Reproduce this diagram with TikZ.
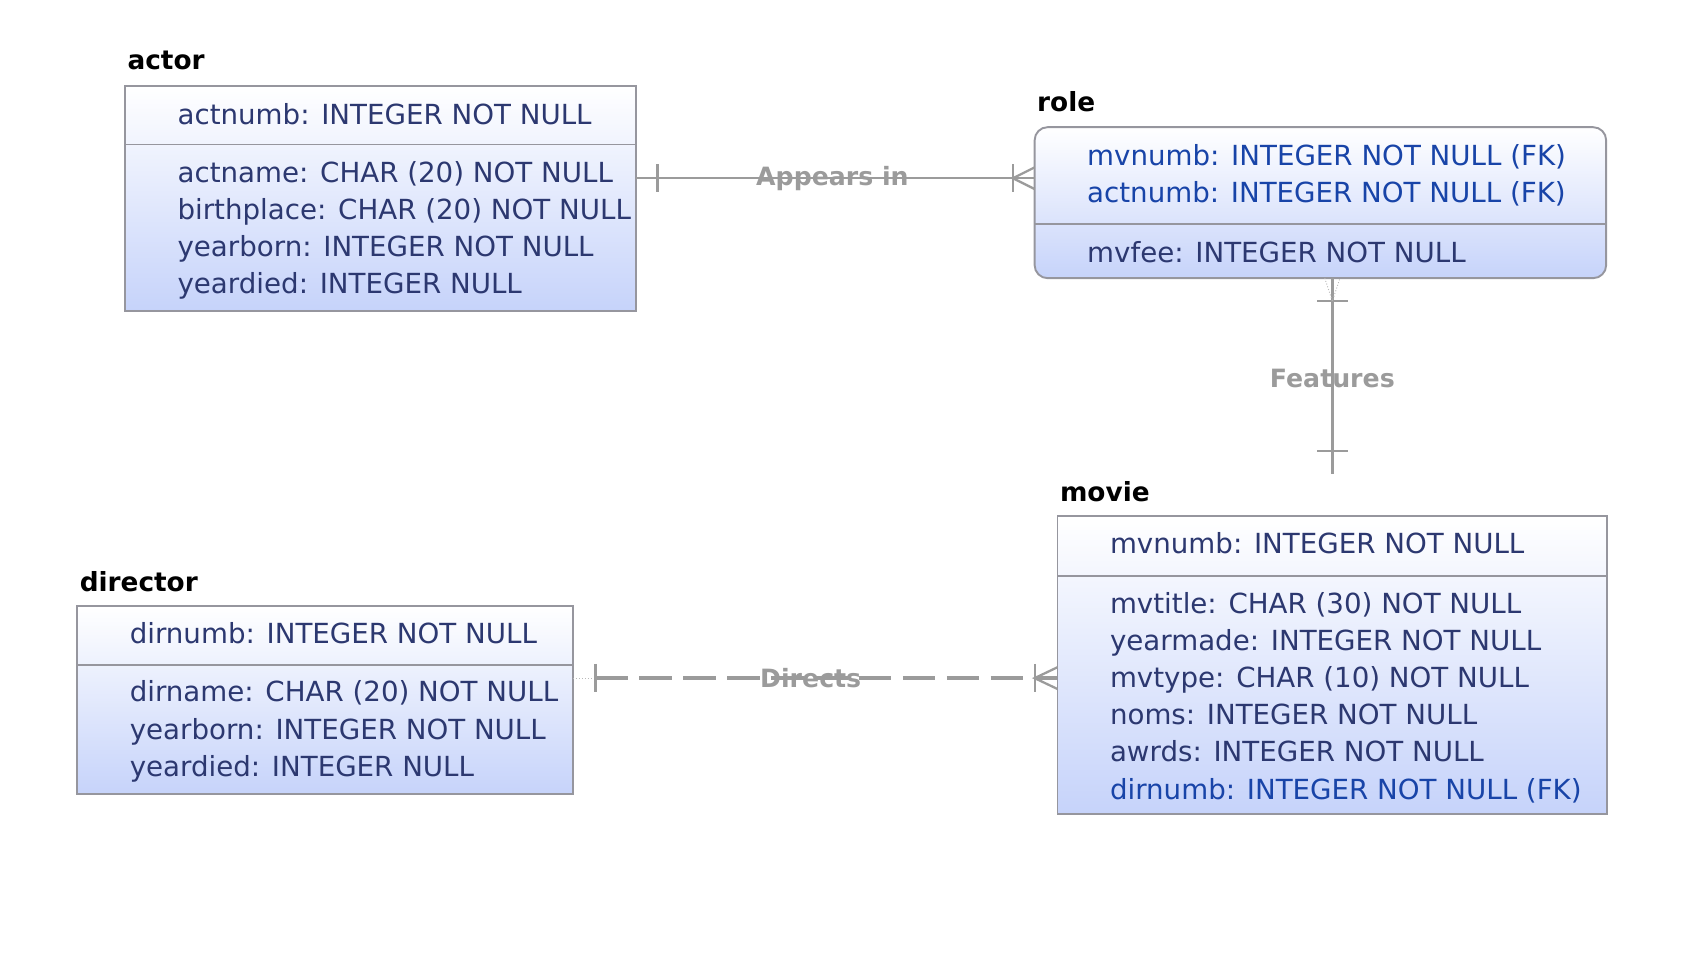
\documentclass[tikz,border=0pt]{standalone}
\usepackage{fontspec}
\setmainfont{DejaVu Sans}
\usepackage{tikz}
\usetikzlibrary{positioning, calc}
\definecolor{boxgray}{RGB}{150,150,158}
\definecolor{ertext}{RGB}{44,56,112}
\definecolor{erfk}{RGB}{24,68,168}
\definecolor{erfill}{RGB}{198,211,250}
\definecolor{relgray}{RGB}{155,155,155}

\begin{document}
\begin{tikzpicture}[x=0.02cm, y=-0.02cm,
    tbl/.style={draw=boxgray, line width=1pt, top color=white, bottom color=erfill, inner sep=0pt, outer sep=0pt},
    divider/.style={draw=boxgray, line width=1pt},
    rows/.style={anchor=west, inner sep=0pt, align=left, text=ertext, font=\fontsize{14.5}{19.4}\selectfont},
    ttl/.style={anchor=west, inner sep=0pt, font=\bfseries\fontsize{13.8}{16}\selectfont},
    rel/.style={draw=relgray, line width=1.2pt},
    rellabel/.style={inner sep=0pt, text=relgray, font=\bfseries\fontsize{13.2}{15}\selectfont}]
  \useasboundingbox (0,0) rectangle (1568,878);
  % Tables
  \node[tbl, minimum width=9.4cm, minimum height=4.14cm] (actor) at (350,182.5) {};
  \node[tbl, rounded corners=0.24cm, minimum width=10.52cm, minimum height=2.78cm] (role) at (1215,186.5) {};
  \node[tbl, minimum width=10.12cm, minimum height=5.48cm] (movie) at (1226,612) {};
  \node[tbl, minimum width=9.12cm, minimum height=3.46cm] (director) at (299,644.5) {};
  \draw[divider] ([yshift=-1.08cm]actor.north west) -- ([yshift=-1.08cm]actor.north east);
  \draw[divider] ([yshift=-1.78cm]role.north west) -- ([yshift=-1.78cm]role.north east);
  \draw[divider] ([yshift=-1.10cm]movie.north west) -- ([yshift=-1.10cm]movie.north east);
  \draw[divider] ([yshift=-1.08cm]director.north west) -- ([yshift=-1.08cm]director.north east);
  % Titles
  \node[ttl] (actorttl) at ([shift={(2,-23)}]actor.north west) {actor};
  \node[ttl] (rolettl) at ([shift={(2,-23)}]role.north west) {role};
  \node[ttl] (moviettl) at ([shift={(2,-23)}]movie.north west) {movie};
  \node[ttl] (directorttl) at ([shift={(2,-23)}]director.north west) {director};
  % Columns
  \node[rows] (actorkey) at ([shift={(48,26)}]actor.north west) {actnumb: INTEGER NOT NULL};
  \node[rows] (actorcols) at ([shift={(48,133)}]actor.north west)
        {actname: CHAR (20) NOT NULL\\ birthplace: CHAR (20) NOT NULL\\
         yearborn: INTEGER NOT NULL\\ yeardied: INTEGER NULL};
  \node[rows, text=erfk] (rolekey) at ([shift={(48,44)}]role.north west)
        {mvnumb: INTEGER NOT NULL (FK)\\ actnumb: INTEGER NOT NULL (FK)};
  \node[rows] (rolecols) at ([shift={(48,115)}]role.north west) {mvfee: INTEGER NOT NULL};
  \node[rows] (moviekey) at ([shift={(48,25)}]movie.north west) {mvnumb: INTEGER NOT NULL};
  \node[rows] (moviecols) at ([shift={(48,167)}]movie.north west)
        {mvtitle: CHAR (30) NOT NULL\\ yearmade: INTEGER NOT NULL\\
         mvtype: CHAR (10) NOT NULL\\ noms: INTEGER NOT NULL\\
         awrds: INTEGER NOT NULL\\ \textcolor{erfk}{dirnumb: INTEGER NOT NULL (FK)}};
  \node[rows] (directorkey) at ([shift={(48,25)}]director.north west) {dirnumb: INTEGER NOT NULL};
  \node[rows] (directorcols) at ([shift={(48,115)}]director.north west)
        {dirname: CHAR (20) NOT NULL\\ yearborn: INTEGER NOT NULL\\ yeardied: INTEGER NULL};
  % Relationships
  \node[rellabel] (appears) at (766,164) {Appears in};
  \node[rellabel] (features) at (1226,348) {Features};
  \node[rellabel] (directs) at (746,624) {Directs};
  \coordinate (a1) at (actor.east |- appears);
  \coordinate (a2) at (role.west |- appears);
  \draw[rel] (a1) -- (a2);
  \draw[rel] ([xshift=0.4cm]a1) ++(0,-13) -- ++(0,26);
  \draw[rel] ([xshift=-0.4cm]a2) ++(0,-13) -- ++(0,26);
  \draw[rel] ([yshift=0.2cm]a2) -- ([xshift=-0.4cm]a2) -- ([yshift=-0.2cm]a2);
  \coordinate (f1) at (movie.north |- role.south);
  \coordinate (f2) at ([yshift=0.78cm]movie.north);
  \draw[rel] (f1) -- (f2);
  \draw[rel] ([yshift=-0.42cm]f1) ++(-14,0) -- ++(28,0);
  \draw[rel] ([yshift=0.42cm]f2) ++(-14,0) -- ++(28,0);
  \draw[relgray!70, line width=0.5pt, densely dotted] ([xshift=-0.14cm]f1) -- ([yshift=-0.42cm]f1) -- ([xshift=0.14cm]f1);
  \coordinate (d1) at (director.east |- directs);
  \coordinate (d2) at (movie.west |- directs);
  \draw[relgray!70, line width=0.6pt, densely dotted] (d1) -- ([xshift=0.42cm]d1);
  \draw[rel, line width=2.1pt, dash pattern=on 17pt off 6pt] ([xshift=0.42cm]d1) -- (d2);
  \draw[rel] ([xshift=0.42cm]d1) ++(0,-13) -- ++(0,26);
  \draw[rel] ([xshift=-0.42cm]d2) ++(0,-13) -- ++(0,26);
  \draw[rel] ([yshift=0.2cm]d2) -- ([xshift=-0.42cm]d2) -- ([yshift=-0.2cm]d2);
\end{tikzpicture}
\end{document}
